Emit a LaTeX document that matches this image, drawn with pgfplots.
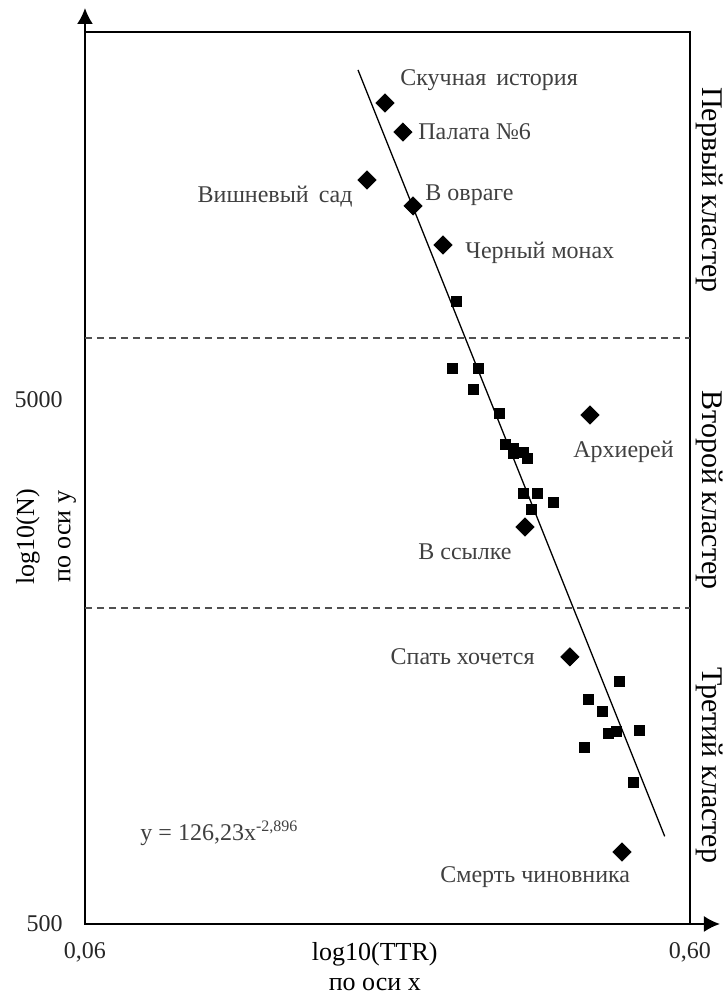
\documentclass[border=0pt]{standalone}
\usepackage{pgfplots}
\pgfplotsset{compat=1.18}
\usepackage{fontspec}
\setmainfont{Liberation Serif}
\usetikzlibrary{arrows.meta}
\definecolor{lblgray}{HTML}{404040}
\definecolor{dashgray}{HTML}{505050}
\begin{document}
\begin{tikzpicture}
\useasboundingbox (-42.5pt,-36pt) rectangle (320pt,462pt);
\begin{axis}[
  at={(0,0)}, anchor=south west,
  scale only axis, width=302.5pt, height=446pt,
  xmode=log, ymode=log,
  xmin=0.06, xmax=0.6, ymin=500, ymax=25190,
  xtick={0.06,0.6}, xticklabels={0{,}06,0{,}60},
  ytick={500,5000}, yticklabels={500,5000},
  minor tick num=0, major tick length=0pt, minor tick length=0pt,
  /pgf/number format/assume math mode=true,
  tick label style={font=\fontsize{12}{14}\selectfont, text=black!85},
  xticklabel style={anchor=north, inner sep=0pt, yshift=-9pt},
  yticklabel style={anchor=east, inner sep=0pt, xshift=-11pt},
  axis line style={line width=1pt},
  clip=false,
]
% cluster borders
\addplot[color=dashgray, line width=0.75pt, dash pattern=on 3.5pt off 2.5pt] coordinates {(0.06,6565) (0.6,6565)};
\addplot[color=dashgray, line width=0.75pt, dash pattern=on 3.5pt off 2.5pt] coordinates {(0.06,2005) (0.6,2005)};
% fitted power line
\addplot[black, line width=0.65pt] coordinates {(0.1696,21320) (0.545,735)};
% labelled texts (diamonds)
\addplot[only marks, mark=square*, mark size=3.2pt, mark options={rotate=45, fill=black, draw=black}] coordinates {
(0.1879,18440) (0.2012,16230) (0.1755,13150) (0.2091,11730) (0.2344,9880)
(0.4100,4680) (0.3202,2861) (0.3800,1617) (0.4632,686)};
% other texts (squares)
\addplot[only marks, mark=square*, mark size=2.5pt, mark options={fill=black, draw=black}] coordinates {
(0.2463,7726) (0.2426,5753) (0.2677,5753) (0.2627,5247) (0.2900,4722)
(0.2968,4121) (0.3059,4049) (0.3059,3961) (0.3178,3978) (0.3227,3874)
(0.3178,3322) (0.3352,3322) (0.3562,3194) (0.3277,3097)
(0.4580,1454) (0.4069,1344) (0.4292,1275) (0.4391,1153) (0.4527,1163)
(0.4942,1173) (0.4008,1084) (0.4830,933)};
% point labels
\begin{scope}[every node/.style={font=\fontsize{12}{14}\selectfont, text=lblgray, inner sep=0pt}]
\node[anchor=west] at (axis cs:0.1990,20400) {Скучная\, история};
\node[anchor=west] at (axis cs:0.2131,16230) {Палата №6};
\node[anchor=east] at (axis cs:0.1664,12200) {Вишневый\, сад};
\node[anchor=west] at (axis cs:0.2189,12310) {В овраге};
\node[anchor=west] at (axis cs:0.2549,9540) {Черный монах};
\node[anchor=west] at (axis cs:0.3844,3978) {Архиерей};
\node[anchor=west] at (axis cs:0.2131,2565) {В ссылке};
\node[anchor=east] at (axis cs:0.3327,1617) {Спать хочется};
\node[anchor=west] at (axis cs:0.2317,614) {Смерть чиновника};
\node[anchor=west] at (axis cs:0.0740,746) {y = 126,23x\textsuperscript{-2,896}};
\end{scope}
% cluster names
\begin{scope}[every node/.style={font=\fontsize{15}{17}\selectfont, rotate=-90, inner sep=0pt}]
\node at ([xshift=10pt]rel axis cs:1,0.823) {Первый кластер};
\node at ([xshift=10pt]rel axis cs:1,0.4865) {Второй кластер};
\node at ([xshift=10pt]rel axis cs:1,0.178) {Третий кластер};
\end{scope}
% axis titles
\begin{scope}[every node/.style={font=\fontsize{13}{15}\selectfont, inner sep=0pt}]
\node at ([yshift=-15pt]rel axis cs:0.479,0) {log10(TTR)};
\node at ([yshift=-30.5pt]rel axis cs:0.479,0) {по оси х};
\node[rotate=90] at ([xshift=-28.5pt]rel axis cs:0,0.434) {log10(N)};
\node[rotate=90] at ([xshift=-9pt]rel axis cs:0,0.434) {по оси у};
\end{scope}
% axis arrows
\draw[line width=1pt, -{Latex[length=8pt,width=8pt]}] (rel axis cs:0,1) -- ++(0pt,12pt);
\draw[line width=1pt, -{Latex[length=8pt,width=8pt]}] (rel axis cs:1,0) -- ++(15pt,0pt);
\end{axis}
\end{tikzpicture}
\end{document}
